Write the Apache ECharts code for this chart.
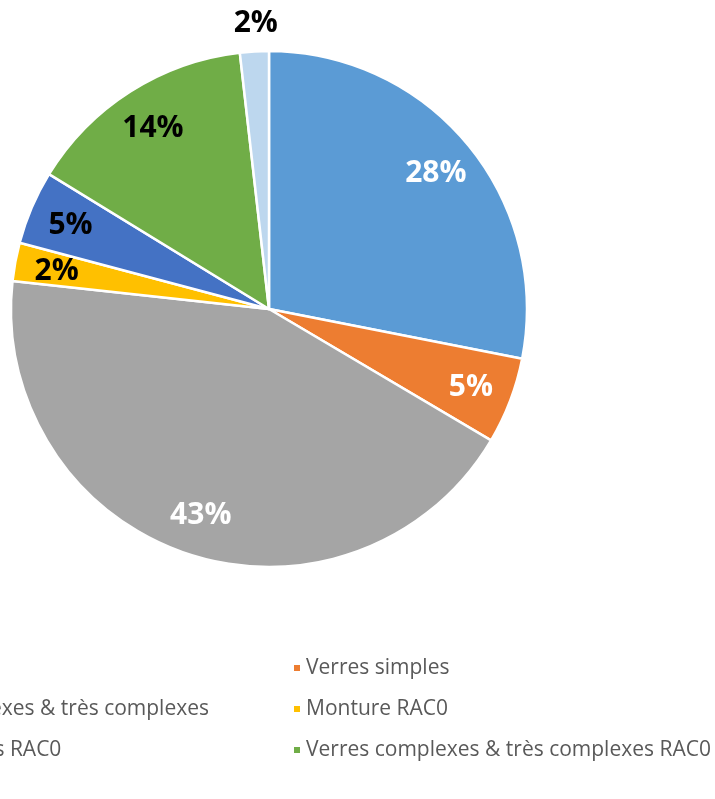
<!DOCTYPE html>
<html>
<head>
<meta charset="utf-8">
<script src="https://cdn.jsdelivr.net/npm/echarts@6/dist/echarts.min.js"></script>
<style>
    html, body { margin: 0; padding: 0; background: #fff; }
    #charts { width: 715px; height: 799px; }
</style>
</head>
<body>
<div id="charts"></div>
<script>
// parts, clockwise from 12 o'clock (percent of total)
var names = [
    'Monture',
    'Verres simples',
    'Verres complexes & très complexes',
    'Monture RAC0',
    'Verres simples RAC0',
    'Verres complexes & très complexes RAC0',
    'Autres'
];
var values = [28.0, 5.4, 43.1, 2.4, 4.6, 14.4, 1.8];

// office palette + label colours
var colors = ['#5B9BD5', '#ED7D31', '#A5A5A5', '#FFC000', '#4472C4', '#70AD47', '#BDD7EE'];
var labelColors = ['#fff', '#fff', '#fff', '#000', '#000', '#000', '#000'];

window.onload = function() {
    var myChart = echarts.init(document.getElementById('charts'), null, { renderer: 'canvas' });

    var pieData = [];
    var labelData = [];
    for (var i = 0; i < names.length; i++) {
        pieData.push({
            name: names[i],
            value: values[i],
            itemStyle: { color: colors[i] }
        });

        var lbl = { color: labelColors[i] };
        if (i == names.length - 1) {
            // small slice: label sits above the pie
            lbl.offset = [-1, -72];
        }
        labelData.push({
            name: names[i],
            value: values[i],
            label: lbl
        });
    }

    var legendText = {
        color: '#595959',
        fontFamily: 'Open Sans',
        fontSize: 21,
        lineHeight: 22
    };

    var option = {
        animation: false,
        backgroundColor: '#fff',
        legend: [
            {
                // left column, mostly cut off by the picture's left edge
                orient: 'vertical',
                right: 506,
                top: 657,
                height: 200,
                padding: 0,
                itemGap: 19,
                itemWidth: 8,
                itemHeight: 8,
                icon: 'rect',
                textStyle: legendText,
                data: [names[0], names[2], names[4], names[6]]
            },
            {
                orient: 'vertical',
                left: 292,
                top: 657,
                height: 200,
                padding: 0,
                itemGap: 19,
                itemWidth: 8,
                itemHeight: 8,
                icon: 'rect',
                textStyle: legendText,
                data: [names[1], names[3], names[5]]
            }
        ],
        series: [
            {
                type: 'pie',
                center: [269, 309],
                radius: 258,
                startAngle: 90,
                clockwise: true,
                avoidLabelOverlap: false,
                label: { show: false },
                labelLine: { show: false },
                itemStyle: { borderColor: '#fff', borderWidth: 2.5 },
                emphasis: { disabled: true },
                data: pieData
            },
            {
                // transparent ring, only here to place the % labels
                type: 'pie',
                center: [269, 311],
                radius: [168, 258],
                startAngle: 90,
                clockwise: true,
                silent: true,
                legendHoverLink: false,
                avoidLabelOverlap: false,
                itemStyle: { color: 'rgba(0,0,0,0)', borderWidth: 0 },
                emphasis: { disabled: true },
                labelLine: { show: false },
                label: {
                    show: true,
                    position: 'inside',
                    fontFamily: 'Open Sans',
                    fontWeight: 'bold',
                    fontSize: 30,
                    formatter: function(p) {
                        return Math.round(p.percent) + '%';
                    }
                },
                data: labelData
            }
        ]
    };

    myChart.setOption(option);
};
</script>
</body>
</html>
